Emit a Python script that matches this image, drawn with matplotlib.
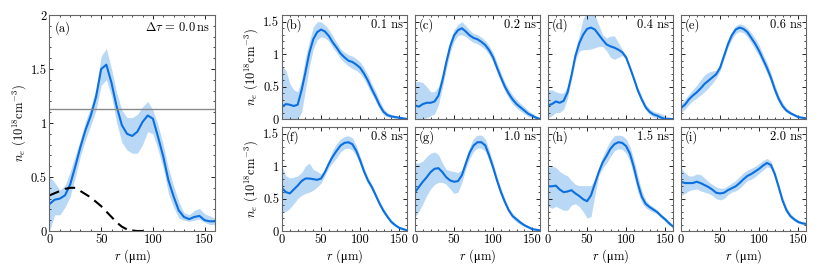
import numpy as np
import matplotlib
matplotlib.use('Agg')
import matplotlib.pyplot as plt
from matplotlib.ticker import MultipleLocator, FormatStrFormatter

plt.rcParams['font.family'] = ['cmr10', 'DejaVu Serif']
plt.rcParams['mathtext.fontset'] = 'cm'
plt.rcParams['font.size'] = 9
plt.rcParams['axes.unicode_minus'] = False

# radial grid (um)
r = np.arange(0, 165, 5)

# panel (a), delta tau = 0.0 ns
ne_a = [0.25, 0.29, 0.30, 0.33, 0.43, 0.60, 0.78, 0.94, 1.07, 1.24, 1.50, 1.54, 1.37, 1.15, 0.98, 0.90, 0.88,
        0.92, 1.01, 1.07, 1.04, 0.87, 0.69, 0.47, 0.32, 0.19, 0.13, 0.11, 0.13, 0.14, 0.10, 0.09, 0.09]
up_a = [0.50, 0.45, 0.38, 0.42, 0.55, 0.70, 0.85, 1.02, 1.15, 1.32, 1.62, 1.69, 1.50, 1.28, 1.12, 1.05, 1.05,
        1.08, 1.15, 1.20, 1.12, 0.98, 0.80, 0.58, 0.42, 0.27, 0.17, 0.15, 0.19, 0.21, 0.16, 0.14, 0.12]
lo_a = [0.00, 0.15, 0.15, 0.22, 0.32, 0.50, 0.70, 0.85, 0.98, 1.12, 1.35, 1.40, 1.25, 1.00, 0.82, 0.75, 0.72,
        0.72, 0.80, 0.92, 0.90, 0.75, 0.58, 0.35, 0.22, 0.12, 0.10, 0.09, 0.10, 0.11, 0.08, 0.06, 0.06]
r_dash = np.arange(0, 100, 5)
ne_dash = [0.33, 0.35, 0.37, 0.39, 0.40, 0.40, 0.37, 0.34, 0.31, 0.27, 0.23, 0.18, 0.13, 0.08, 0.04, 0.015,
           0.005, 0.0, 0.0, 0.0]
ne_crit = 1.13

labels = ['(b)', '(c)', '(d)', '(e)', '(f)', '(g)', '(h)', '(i)']
delays = ['0.1 ns', '0.2 ns', '0.4 ns', '0.6 ns', '0.8 ns', '1.0 ns', '1.5 ns', '2.0 ns']

ne_b = [0.19, 0.23, 0.22, 0.20, 0.22, 0.44, 0.72, 1.02, 1.23, 1.34, 1.38, 1.35, 1.28, 1.18, 1.10, 1.01, 0.95,
        0.90, 0.88, 0.84, 0.79, 0.70, 0.59, 0.46, 0.34, 0.21, 0.11, 0.06, 0.04, 0.03, 0.02, 0.01, 0.0]
up_b = [0.82, 0.75, 0.55, 0.45, 0.42, 0.60, 0.95, 1.20, 1.42, 1.50, 1.50, 1.45, 1.38, 1.28, 1.18, 1.08, 1.03,
        0.99, 0.97, 0.93, 0.88, 0.79, 0.68, 0.54, 0.42, 0.28, 0.16, 0.10, 0.07, 0.05, 0.03, 0.02, 0.01]
lo_b = [0.0, 0.0, 0.0, 0.0, 0.0, 0.10, 0.45, 0.80, 1.08, 1.22, 1.27, 1.25, 1.20, 1.10, 1.02, 0.93, 0.87,
        0.82, 0.78, 0.75, 0.70, 0.62, 0.50, 0.38, 0.27, 0.15, 0.06, 0.03, 0.02, 0.01, 0.0, 0.0, 0.0]

ne_c = [0.21, 0.19, 0.23, 0.25, 0.25, 0.27, 0.36, 0.59, 0.87, 1.12, 1.29, 1.37, 1.40, 1.35, 1.29, 1.25, 1.23,
        1.19, 1.14, 1.06, 0.95, 0.79, 0.64, 0.50, 0.39, 0.30, 0.23, 0.18, 0.13, 0.08, 0.05, 0.02, 0.0]
up_c = [0.57, 0.58, 0.56, 0.50, 0.42, 0.42, 0.50, 0.70, 0.97, 1.20, 1.38, 1.46, 1.50, 1.44, 1.37, 1.32, 1.30,
        1.26, 1.21, 1.13, 1.02, 0.87, 0.71, 0.57, 0.46, 0.37, 0.30, 0.24, 0.19, 0.13, 0.09, 0.05, 0.02]
lo_c = [0.0, 0.0, 0.0, 0.02, 0.05, 0.08, 0.22, 0.48, 0.77, 1.03, 1.20, 1.29, 1.30, 1.27, 1.22, 1.18, 1.16,
        1.12, 1.07, 0.99, 0.88, 0.72, 0.57, 0.43, 0.32, 0.23, 0.17, 0.12, 0.08, 0.04, 0.02, 0.0, 0.0]

ne_d = [0.21, 0.23, 0.27, 0.25, 0.28, 0.41, 0.67, 0.97, 1.17, 1.30, 1.39, 1.41, 1.38, 1.30, 1.22, 1.15, 1.12,
        1.10, 1.07, 1.03, 0.95, 0.79, 0.62, 0.44, 0.30, 0.18, 0.11, 0.07, 0.05, 0.02, 0.0, 0.0, 0.0]
up_d = [0.45, 0.45, 0.42, 0.40, 0.40, 0.50, 0.75, 1.05, 1.30, 1.55, 1.65, 1.65, 1.60, 1.45, 1.30, 1.25, 1.28,
        1.28, 1.18, 1.07, 0.98, 0.82, 0.66, 0.49, 0.35, 0.23, 0.16, 0.12, 0.10, 0.08, 0.05, 0.03, 0.01]
lo_d = [0.02, 0.05, 0.10, 0.10, 0.15, 0.32, 0.60, 0.90, 1.05, 1.07, 1.07, 1.08, 1.10, 1.12, 1.12, 1.05, 0.95,
        0.92, 0.95, 0.98, 0.92, 0.76, 0.58, 0.40, 0.26, 0.14, 0.07, 0.03, 0.01, 0.0, 0.0, 0.0, 0.0]

ne_e = [0.17, 0.22, 0.30, 0.36, 0.41, 0.47, 0.54, 0.59, 0.64, 0.69, 0.79, 0.97, 1.15, 1.29, 1.38, 1.41, 1.39,
        1.34, 1.25, 1.16, 1.05, 0.92, 0.79, 0.64, 0.46, 0.31, 0.20, 0.13, 0.09, 0.06, 0.03, 0.02, 0.01]
up_e = [0.23, 0.30, 0.38, 0.45, 0.52, 0.60, 0.68, 0.72, 0.74, 0.75, 0.85, 1.03, 1.22, 1.35, 1.44, 1.47, 1.45,
        1.40, 1.33, 1.24, 1.14, 1.00, 0.87, 0.71, 0.53, 0.37, 0.25, 0.17, 0.12, 0.08, 0.05, 0.03, 0.02]
lo_e = [0.10, 0.15, 0.22, 0.28, 0.32, 0.37, 0.42, 0.48, 0.55, 0.63, 0.74, 0.92, 1.10, 1.23, 1.32, 1.35, 1.33,
        1.27, 1.17, 1.07, 0.97, 0.84, 0.71, 0.57, 0.40, 0.26, 0.16, 0.10, 0.07, 0.04, 0.02, 0.01, 0.0]

ne_f = [0.66, 0.60, 0.58, 0.64, 0.70, 0.77, 0.81, 0.81, 0.80, 0.79, 0.81, 0.91, 1.04, 1.15, 1.24, 1.32, 1.36,
        1.37, 1.34, 1.24, 1.09, 0.92, 0.78, 0.68, 0.55, 0.42, 0.31, 0.22, 0.14, 0.09, 0.05, 0.03, 0.01]
up_f = [1.00, 0.85, 0.82, 0.83, 0.85, 0.90, 1.00, 1.05, 0.95, 0.92, 0.88, 0.95, 1.10, 1.25, 1.35, 1.42, 1.46,
        1.47, 1.44, 1.32, 1.15, 0.98, 0.83, 0.72, 0.59, 0.46, 0.35, 0.25, 0.17, 0.11, 0.07, 0.04, 0.02]
lo_f = [0.30, 0.30, 0.35, 0.42, 0.50, 0.55, 0.58, 0.60, 0.63, 0.68, 0.74, 0.86, 0.98, 1.06, 1.13, 1.22, 1.27,
        1.28, 1.25, 1.16, 1.02, 0.87, 0.73, 0.63, 0.51, 0.38, 0.27, 0.19, 0.11, 0.07, 0.03, 0.01, 0.0]

ne_g = [0.60, 0.68, 0.76, 0.83, 0.91, 0.96, 0.97, 0.91, 0.83, 0.78, 0.76, 0.77, 0.86, 1.04, 1.21, 1.32, 1.37,
        1.37, 1.32, 1.16, 0.98, 0.78, 0.60, 0.45, 0.32, 0.23, 0.18, 0.13, 0.09, 0.06, 0.03, 0.02, 0.01]
up_g = [1.05, 1.05, 1.08, 1.15, 1.20, 1.22, 1.18, 1.05, 0.95, 0.93, 0.92, 0.90, 0.95, 1.12, 1.30, 1.43, 1.48,
        1.48, 1.42, 1.25, 1.05, 0.84, 0.66, 0.50, 0.36, 0.27, 0.21, 0.16, 0.11, 0.08, 0.05, 0.03, 0.02]
lo_g = [0.22, 0.30, 0.42, 0.55, 0.65, 0.72, 0.75, 0.75, 0.72, 0.65, 0.58, 0.60, 0.75, 0.96, 1.12, 1.23, 1.28,
        1.28, 1.23, 1.08, 0.91, 0.72, 0.55, 0.40, 0.28, 0.19, 0.14, 0.10, 0.07, 0.04, 0.02, 0.01, 0.0]

ne_h = [0.69, 0.69, 0.70, 0.64, 0.60, 0.61, 0.63, 0.58, 0.54, 0.49, 0.46, 0.55, 0.73, 0.91, 1.06, 1.16, 1.27,
        1.34, 1.37, 1.36, 1.31, 1.19, 0.98, 0.73, 0.53, 0.42, 0.37, 0.33, 0.29, 0.23, 0.18, 0.12, 0.07]
up_h = [0.98, 1.00, 0.98, 0.92, 0.88, 0.85, 0.78, 0.72, 0.70, 0.70, 0.70, 0.70, 0.80, 0.98, 1.15, 1.28, 1.40,
        1.47, 1.48, 1.47, 1.42, 1.30, 1.10, 0.85, 0.62, 0.48, 0.41, 0.37, 0.32, 0.26, 0.21, 0.15, 0.09]
lo_h = [0.38, 0.35, 0.38, 0.35, 0.32, 0.32, 0.40, 0.42, 0.38, 0.30, 0.20, 0.22, 0.55, 0.85, 0.97, 1.05, 1.15,
        1.24, 1.27, 1.26, 1.20, 1.07, 0.85, 0.60, 0.44, 0.36, 0.32, 0.29, 0.26, 0.20, 0.15, 0.09, 0.05]

ne_i = [0.76, 0.74, 0.74, 0.74, 0.76, 0.74, 0.71, 0.68, 0.64, 0.59, 0.58, 0.59, 0.63, 0.66, 0.69, 0.74, 0.80,
        0.85, 0.88, 0.92, 0.96, 1.01, 1.05, 1.02, 0.88, 0.68, 0.47, 0.32, 0.23, 0.18, 0.14, 0.12, 0.11]
up_i = [0.98, 0.90, 0.85, 0.85, 0.88, 0.87, 0.82, 0.76, 0.72, 0.68, 0.66, 0.66, 0.70, 0.74, 0.78, 0.84, 0.90,
        0.94, 0.97, 1.00, 1.04, 1.09, 1.12, 1.08, 0.93, 0.73, 0.52, 0.37, 0.27, 0.21, 0.17, 0.14, 0.13]
lo_i = [0.55, 0.58, 0.62, 0.64, 0.65, 0.62, 0.60, 0.58, 0.55, 0.50, 0.48, 0.50, 0.56, 0.60, 0.62, 0.66, 0.72,
        0.78, 0.80, 0.84, 0.89, 0.94, 0.99, 0.97, 0.83, 0.63, 0.43, 0.28, 0.20, 0.15, 0.12, 0.10, 0.09]

means = [ne_b, ne_c, ne_d, ne_e, ne_f, ne_g, ne_h, ne_i]
uppers = [up_b, up_c, up_d, up_e, up_f, up_g, up_h, up_i]
lowers = [lo_b, lo_c, lo_d, lo_e, lo_f, lo_g, lo_h, lo_i]

line_col = '#0b6fe0'
band_col = '#b9d8f6'
ylab = r'$n_e$ ($10^{18}$cm$^{-3}$)'
xlab = r'$r$ ($\mathregular{\mu}$m)'


def style(ax):
    ax.tick_params(which='both', direction='in', top=True, right=True, labelsize=9, pad=2)
    ax.tick_params(which='major', length=3, width=0.6)
    ax.tick_params(which='minor', length=1.5, width=0.5)
    for s in ax.spines.values():
        s.set_color('#666666')
        s.set_linewidth(0.8)
    ax.xaxis.set_major_locator(MultipleLocator(50))
    ax.xaxis.set_minor_locator(MultipleLocator(10))
    ax.yaxis.set_major_locator(MultipleLocator(0.5))
    ax.yaxis.set_minor_locator(MultipleLocator(0.1))
    ax.yaxis.set_major_formatter(FormatStrFormatter('%g'))


fig = plt.figure(figsize=(8.3, 2.78), dpi=100)

# panel (a)
ax = fig.add_axes([0.0596, 0.169, 0.1994, 0.777])
ax.fill_between(r, lo_a, up_a, color=band_col, lw=0)
ax.plot(r, ne_a, color=line_col, lw=1.5)
ax.axhline(ne_crit, color='#8a8a8a', lw=1.0)
ax.plot(r_dash, ne_dash, color='black', lw=1.5, dashes=(5, 3))
ax.set_xlim(0, 160)
ax.set_ylim(0, 2)
style(ax)
ax.set_xlabel(xlab, labelpad=1)
ax.set_ylabel(ylab, labelpad=2)
ax.text(0.03, 0.97, '(a)', transform=ax.transAxes, ha='left', va='top')
ax.text(0.97, 0.97, r'$\Delta\tau\,=\,0.0\,$ns', transform=ax.transAxes, ha='right', va='top')

lefts = [282, 415, 548, 681]
for k in range(8):
    row, col = divmod(k, 4)
    left = lefts[col] / 830
    bottom = 0.572 if row == 0 else 0.169
    ax = fig.add_axes([left, bottom, 125 / 830, 0.373])
    ax.fill_between(r, lowers[k], uppers[k], color=band_col, lw=0)
    ax.plot(r, means[k], color=line_col, lw=1.5)
    ax.set_xlim(0, 160)
    ax.set_ylim(0, 1.6)
    style(ax)
    if col == 0:
        ax.set_ylabel(ylab, labelpad=2)
    else:
        ax.tick_params(labelleft=False)
    if row == 1:
        ax.set_xlabel(xlab, labelpad=1)
    else:
        ax.tick_params(labelbottom=False)
    ax.text(0.03, 0.97, labels[k], transform=ax.transAxes, ha='left', va='top')
    ax.text(0.97, 0.97, delays[k], transform=ax.transAxes, ha='right', va='top')

fig.savefig('out.png', dpi=100)
